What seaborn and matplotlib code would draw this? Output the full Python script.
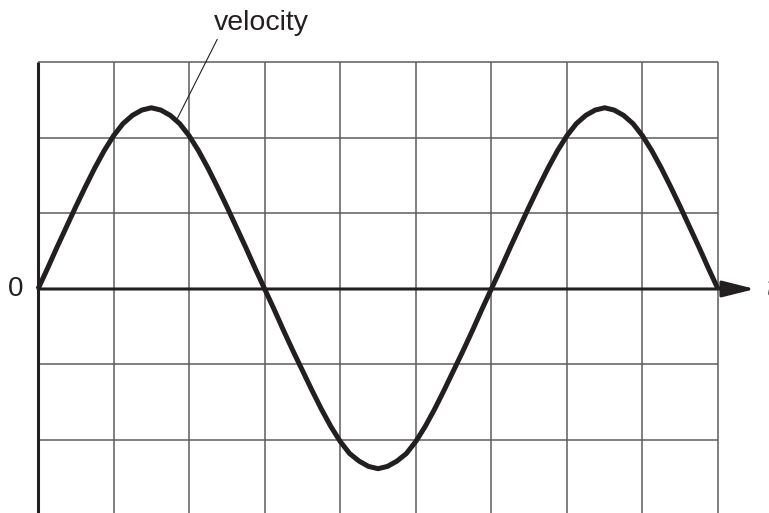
import numpy as np
import matplotlib
matplotlib.use('Agg')
import matplotlib.pyplot as plt
import seaborn as sns

sns.set_style("white")
plt.rcParams['font.family'] = ['Liberation Sans', 'DejaVu Sans']

# time in grid squares, velocity (grid squares)
time = [0.0, 0.125, 0.25, 0.375, 0.5, 0.625, 0.75, 0.875,
        1.0, 1.125, 1.25, 1.375, 1.5, 1.625, 1.75, 1.875,
        2.0, 2.125, 2.25, 2.375, 2.5, 2.625, 2.75, 2.875,
        3.0, 3.125, 3.25, 3.375, 3.5, 3.625, 3.75, 3.875,
        4.0, 4.125, 4.25, 4.375, 4.5, 4.625, 4.75, 4.875,
        5.0, 5.125, 5.25, 5.375, 5.5, 5.625, 5.75, 5.875,
        6.0, 6.125, 6.25, 6.375, 6.5, 6.625, 6.75, 6.875,
        7.0, 7.125, 7.25, 7.375, 7.5, 7.625, 7.75, 7.875,
        8.0, 8.125, 8.25, 8.375, 8.5, 8.625, 8.75, 8.875, 9.0]
velocity = [0.0, 0.27, 0.55, 0.82, 1.09, 1.35, 1.60, 1.83,
            2.03, 2.19, 2.30, 2.37, 2.40, 2.37, 2.30, 2.19,
            2.03, 1.83, 1.60, 1.35, 1.09, 0.82, 0.55, 0.27,
            0.0, -0.27, -0.55, -0.82, -1.08, -1.34, -1.59, -1.82,
            -2.02, -2.18, -2.28, -2.35, -2.38, -2.35, -2.28, -2.18,
            -2.02, -1.82, -1.59, -1.34, -1.08, -0.82, -0.55, -0.27,
            0.0, 0.27, 0.55, 0.82, 1.09, 1.35, 1.60, 1.83,
            2.03, 2.19, 2.30, 2.37, 2.40, 2.37, 2.30, 2.19,
            2.03, 1.83, 1.60, 1.35, 1.09, 0.82, 0.55, 0.27, 0.0]
grid_x = [0, 1, 2, 3, 4, 5, 6, 7, 8, 9]
grid_y = [-2, -1, 0, 1, 2, 3]
label_at = 1.83

INK = '#231f20'
GRID = '#5c5c5c'

fig = plt.figure(figsize=(7.69, 5.13), dpi=100)
ax = fig.add_axes([0.0396, 0.0, 0.9039, 0.8929])
ax.set_xlim(-0.1, 9.1)
ax.set_ylim(-2.967, 3.1)

# grid
ax.vlines(grid_x[1:], -3.2, 3, color=GRID, lw=1.1, zorder=1)
ax.hlines(grid_y, 0, 9, color=GRID, lw=1.1, zorder=1)
# left axis
ax.vlines([0], -3.2, 3, color=INK, lw=2.2, zorder=2)

# time axis with arrow
ax.annotate('', xy=(9.49, 0), xytext=(0, 0),
            arrowprops=dict(arrowstyle='-|>,head_length=2.0,head_width=0.5',
                            mutation_scale=10, lw=2.2, color=INK,
                            shrinkA=0, shrinkB=0),
            annotation_clip=False, zorder=3)
ax.text(9.64, 0, 't', fontsize=20, style='italic', ha='left', va='center',
        color=INK, clip_on=False)
ax.text(-0.2, 0, '0', fontsize=20, ha='right', va='center', color=INK,
        clip_on=False)

sns.lineplot(x=time, y=velocity, ax=ax, color=INK, lw=3.6, zorder=4,
             solid_joinstyle='round', solid_capstyle='butt')

# label with leader line
ax.annotate('velocity', xy=(label_at, np.interp(label_at, time, velocity)),
            xytext=(2.96, 3.43), fontsize=20.5, ha='center', va='baseline',
            color=INK, annotation_clip=False,
            arrowprops=dict(arrowstyle='-', lw=0.8, color=INK,
                            relpos=(0.05, 0.0), shrinkA=0, shrinkB=0))

ax.set_xticks([])
ax.set_yticks([])
for s in ax.spines.values():
    s.set_visible(False)
ax.set_xlabel('')
ax.set_ylabel('')

plt.savefig('out.png', dpi=100)
plt.close()
